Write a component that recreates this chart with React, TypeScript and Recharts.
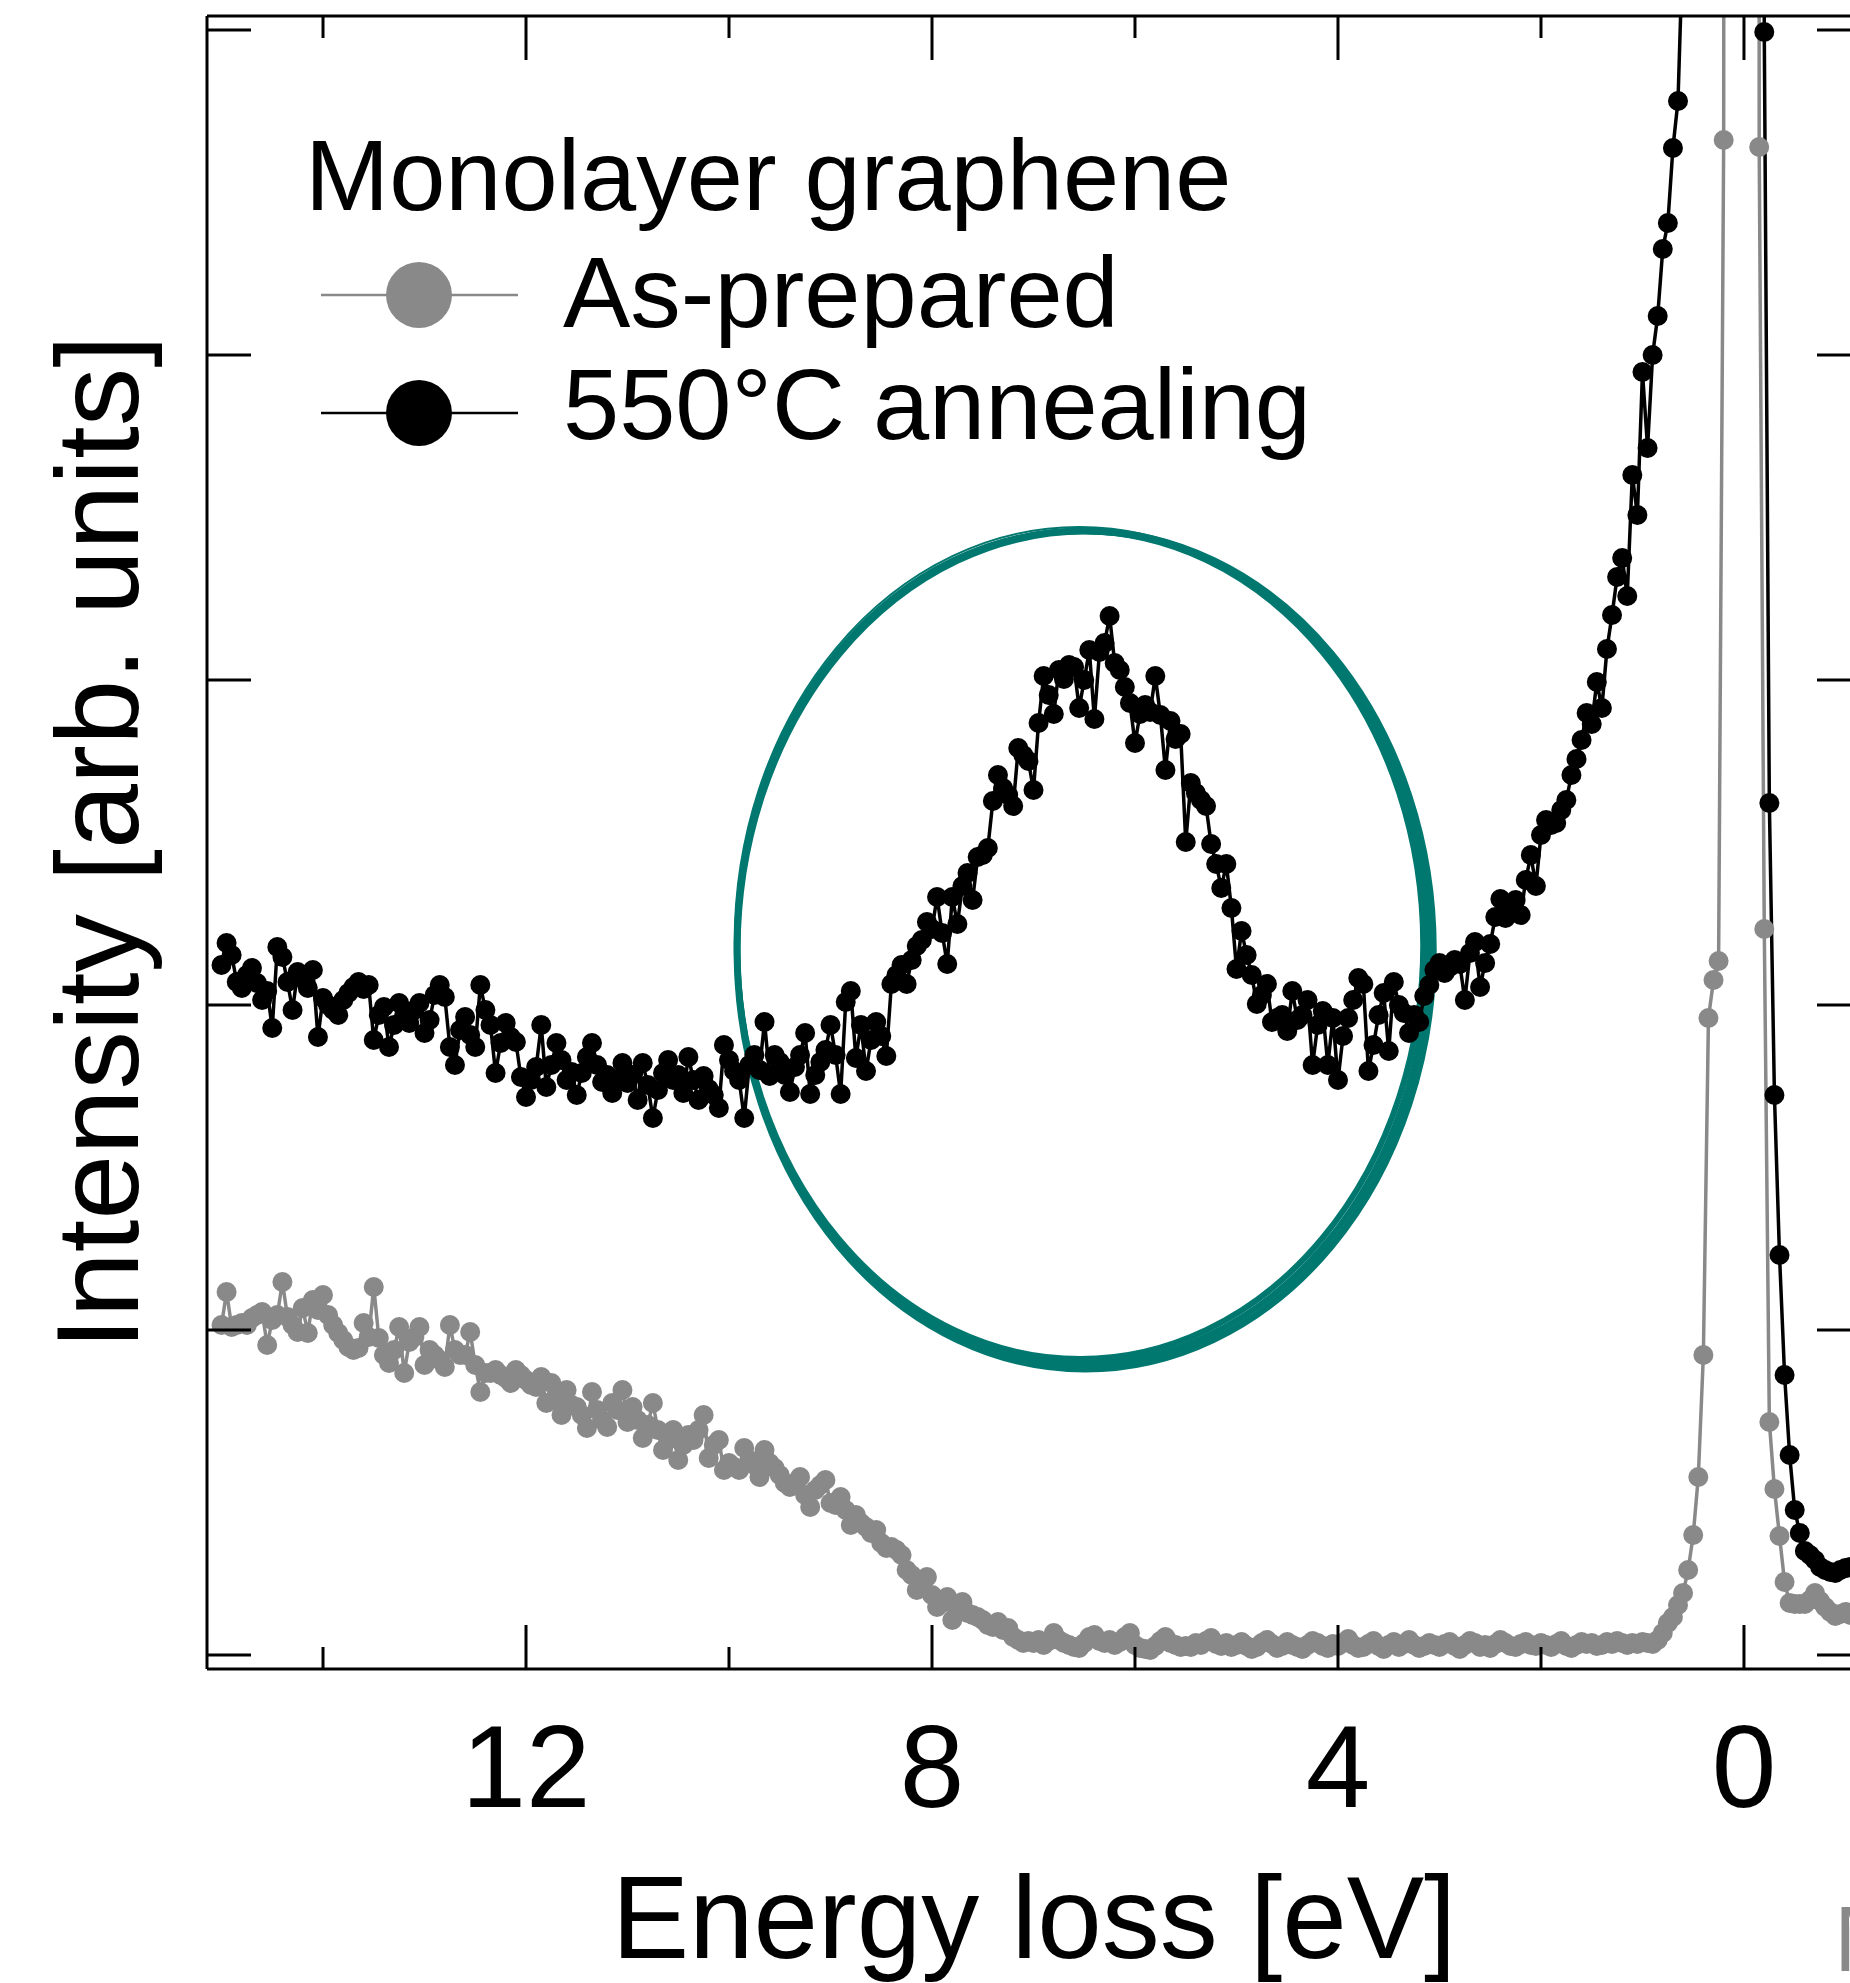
import React from 'react';
import { LineChart, Line, XAxis, YAxis, ReferenceArea, Legend } from 'recharts';

// Energy loss grid [eV]
const energy = [
  15.0, 14.95, 14.9, 14.85, 14.8, 14.75, 14.7, 14.65, 14.6, 14.55, 14.5, 14.45, 14.4, 14.35, 14.3, 14.25, 14.2, 14.15, 14.1, 14.05,
  14.0, 13.95, 13.9, 13.85, 13.8, 13.75, 13.7, 13.65, 13.6, 13.55, 13.5, 13.45, 13.4, 13.35, 13.3, 13.25, 13.2, 13.15, 13.1, 13.05,
  13.0, 12.95, 12.9, 12.85, 12.8, 12.75, 12.7, 12.65, 12.6, 12.55, 12.5, 12.45, 12.4, 12.35, 12.3, 12.25, 12.2, 12.15, 12.1, 12.05,
  12.0, 11.95, 11.9, 11.85, 11.8, 11.75, 11.7, 11.65, 11.6, 11.55, 11.5, 11.45, 11.4, 11.35, 11.3, 11.25, 11.2, 11.15, 11.1, 11.05,
  11.0, 10.95, 10.9, 10.85, 10.8, 10.75, 10.7, 10.65, 10.6, 10.55, 10.5, 10.45, 10.4, 10.35, 10.3, 10.25, 10.2, 10.15, 10.1, 10.05,
  10.0, 9.95, 9.9, 9.85, 9.8, 9.75, 9.7, 9.65, 9.6, 9.55, 9.5, 9.45, 9.4, 9.35, 9.3, 9.25, 9.2, 9.15, 9.1, 9.05,
  9.0, 8.95, 8.9, 8.85, 8.8, 8.75, 8.7, 8.65, 8.6, 8.55, 8.5, 8.45, 8.4, 8.35, 8.3, 8.25, 8.2, 8.15, 8.1, 8.05,
  8.0, 7.95, 7.9, 7.85, 7.8, 7.75, 7.7, 7.65, 7.6, 7.55, 7.5, 7.45, 7.4, 7.35, 7.3, 7.25, 7.2, 7.15, 7.1, 7.05,
  7.0, 6.95, 6.9, 6.85, 6.8, 6.75, 6.7, 6.65, 6.6, 6.55, 6.5, 6.45, 6.4, 6.35, 6.3, 6.25, 6.2, 6.15, 6.1, 6.05,
  6.0, 5.95, 5.9, 5.85, 5.8, 5.75, 5.7, 5.65, 5.6, 5.55, 5.5, 5.45, 5.4, 5.35, 5.3, 5.25, 5.2, 5.15, 5.1, 5.05,
  5.0, 4.95, 4.9, 4.85, 4.8, 4.75, 4.7, 4.65, 4.6, 4.55, 4.5, 4.45, 4.4, 4.35, 4.3, 4.25, 4.2, 4.15, 4.1, 4.05,
  4.0, 3.95, 3.9, 3.85, 3.8, 3.75, 3.7, 3.65, 3.6, 3.55, 3.5, 3.45, 3.4, 3.35, 3.3, 3.25, 3.2, 3.15, 3.1, 3.05,
  3.0, 2.95, 2.9, 2.85, 2.8, 2.75, 2.7, 2.65, 2.6, 2.55, 2.5, 2.45, 2.4, 2.35, 2.3, 2.25, 2.2, 2.15, 2.1, 2.05,
  2.0, 1.95, 1.9, 1.85, 1.8, 1.75, 1.7, 1.65, 1.6, 1.55, 1.5, 1.45, 1.4, 1.35, 1.3, 1.25, 1.2, 1.15, 1.1, 1.05,
  1.0, 0.95, 0.9, 0.85, 0.8, 0.75, 0.7, 0.65, 0.6, 0.55, 0.5, 0.45, 0.4, 0.35, 0.3, 0.25, 0.2, 0.15, 0.1, 0.05,
  0.0, -0.05, -0.1, -0.15, -0.2, -0.25, -0.3, -0.35, -0.4, -0.45, -0.5, -0.55, -0.6, -0.65, -0.7, -0.75, -0.8, -0.85, -0.9, -0.95,
  -1.0, -1.05, -1.1, -1.15,
];

// As-prepared intensity [arb. units]
const asPrepared = [
  330, 363, 328, 330, 332, 330, 337, 340, 343, 310, 335, 340, 373, 338, 330, 323, 347, 322, 355, 345,
  360, 340, 330, 322, 315, 308, 305, 307, 332, 318, 368, 317, 300, 292, 305, 328, 282, 313, 318, 328,
  290, 305, 300, 295, 288, 330, 305, 300, 300, 323, 290, 263, 282, 282, 285, 280, 277, 272, 285, 280,
  275, 270, 268, 278, 252, 272, 255, 240, 265, 250, 248, 240, 227, 263, 245, 235, 228, 252, 245, 265,
  233, 248, 235, 217, 230, 252, 225, 205, 215, 225, 195, 210, 220, 215, 225, 240, 197, 210, 215, 185,
  192, 188, 185, 207, 195, 190, 178, 205, 192, 187, 180, 172, 168, 172, 178, 160, 148, 165, 170, 175,
  152, 150, 158, 145, 130, 140, 132, 128, 122, 125, 112, 107, 108, 105, 100, 85, 80, 65, 72, 78,
  60, 48, 52, 58, 35, 45, 53, 42, 40, 38, 35, 30, 28, 33, 25, 27, 18, 15, 12, 14,
  12, 15, 10, 14, 22, 15, 12, 10, 8, 7, 12, 18, 20, 14, 12, 15, 10, 13, 18, 22,
  10, 7, 6, 5, 9, 14, 18, 12, 10, 8, 9, 8, 12, 10, 14, 17, 11, 9, 12, 8,
  10, 13, 9, 6, 8, 12, 15, 11, 7, 9, 13, 10, 8, 6, 10, 14, 12, 9, 7, 11,
  9, 12, 16, 10, 7, 8, 11, 14, 9, 6, 10, 13, 8, 11, 15, 10, 7, 9, 12, 10,
  8, 11, 13, 9, 6, 10, 14, 12, 8, 10, 7, 11, 15, 12, 9, 8, 11, 13, 10, 9,
  12, 10, 8, 11, 14, 9, 7, 10, 13, 11, 12, 9, 10, 13, 11, 14, 12, 10, 12, 11,
  13, 12, 11, 15, 22, 32, 38, 50, 62, 85, 120, 178, 300, 637, 675, 694, 1515, 9000, 30000, 50000,
  60000, 45000, 20000, 1508, 726, 233, 166, 119, 73, 52, 51, 51, 51, 55, 62, 54, 48, 43, 39, 41,
  43, 40, 42, 40,
];

// 550 °C annealed intensity [arb. units]
const annealed = [
  690, 712, 700, 673, 667, 680, 687, 672, 655, 664, 627, 708, 698, 673, 645, 683, 676, 667, 685, 618,
  657, 650, 645, 640, 655, 662, 668, 673, 666, 670, 615, 640, 648, 608, 630, 652, 640, 632, 645, 652,
  622, 635, 660, 670, 658, 608, 590, 625, 638, 620, 608, 670, 645, 630, 582, 612, 632, 618, 613, 578,
  558, 575, 588, 630, 568, 590, 612, 595, 575, 583, 560, 582, 598, 612, 590, 573, 580, 562, 575, 592,
  572, 580, 555, 592, 570, 537, 565, 582, 595, 575, 580, 562, 598, 575, 555, 579, 566, 560, 547, 610,
  595, 584, 575, 537, 590, 600, 585, 633, 579, 600, 593, 580, 563, 588, 600, 622, 561, 580, 593, 605,
  630, 600, 561, 653, 664, 597, 630, 584, 615, 633, 619, 599, 671, 680, 690, 671, 695, 709, 715, 733,
  726, 758, 722, 691, 758, 731, 769, 782, 755, 798, 800, 807, 854, 880, 867, 860, 849, 907, 900, 894,
  865, 932, 979, 960, 941, 985, 976, 990, 988, 947, 975, 1005, 936, 1003, 1012, 1039, 992, 985, 968, 952,
  912, 941, 950, 943, 979, 940, 885, 934, 916, 921, 813, 872, 862, 855, 849, 811, 791, 767, 791, 747,
  686, 724, 700, 680, 651, 660, 671, 633, 637, 640, 624, 664, 635, 640, 655, 590, 630, 644, 590, 637,
  575, 619, 637, 655, 677, 671, 584, 610, 640, 662, 604, 673, 650, 642, 622, 640, 633, 659, 670, 685,
  692, 682, 688, 695, 691, 655, 702, 713, 668, 692, 711, 738, 756, 737, 745, 755, 740, 775, 800, 769,
  820, 835, 830, 832, 845, 855, 880, 896, 915, 942, 931, 973, 947, 1006, 1040, 1078, 1097, 1059, 1180, 1140,
  1283, 1207, 1300, 1339, 1406, 1432, 1507, 1554, 1720, 2200, 2800, 3600, 4600, 6000, 8000, 11000, 15000, 20000, 26000, 32000,
  36000, 30000, 18000, 6000, 1623, 852, 560, 400, 280, 200, 145, 122, 104, 100, 95, 88, 85, 83, 82, 85,
  87, 88, 86, 85,
];

const seriesNames = ['As-prepared', '550°C annealing'];
const legendTitle = 'Monolayer graphene';
const xTicks = [14, 12, 10, 8, 6, 4, 2, 0];
const xLabelTicks = [12, 8, 4, 0];
const yTicks = [0, 325, 650, 975, 1300, 1625];
const xDomain = [-1.153, 15.143];
const yDomain = [-14, 1639];
// highlighted region (eV from..to, intensity low..high)
const highlightFrom = 9.92;
const highlightTo = 3.16;
const highlightLow = 296;
const highlightHigh = 1124;

const FONT = '"Liberation Sans", Arial, Helvetica, sans-serif';
const GRAY = '#898989';
const BLACK = '#000000';
const TEAL = '#00786f';

const data = energy.map((e, i) => ({ e, asPrepared: asPrepared[i], annealed: annealed[i] }));

const isMajor = (v: number) => Math.abs(v % 4) < 1e-6;

const BottomTick = (props: any) => {
  const { x, y, payload } = props;
  const v = payload.value;
  const major = isMajor(v);
  return (
    <g>
      <line x1={x} x2={x} y1={y} y2={y - (major ? 44 : 22)} stroke="#000" strokeWidth={3} />
      {xLabelTicks.includes(v) && (
        <text x={x} y={y + 138} textAnchor="middle" fontSize={116} fontFamily={FONT} fill="#000">
          {v}
        </text>
      )}
    </g>
  );
};

const TopTick = (props: any) => {
  const { x, y, payload } = props;
  const major = isMajor(payload.value);
  return <line x1={x} x2={x} y1={y} y2={y + (major ? 44 : 22)} stroke="#000" strokeWidth={3} />;
};

const LeftTick = (props: any) => {
  const { x, y } = props;
  return <line x1={x} x2={x + 44} y1={y} y2={y} stroke="#000" strokeWidth={3} />;
};

const RightTick = (props: any) => {
  const { x, y } = props;
  return <line x1={x} x2={x - 44} y1={y} y2={y} stroke="#000" strokeWidth={3} />;
};

const xLabel = (props: any) => {
  const vb = props.viewBox || {};
  return (
    <text x={vb.x + vb.width / 2} y={vb.y + 289} textAnchor="middle" fontSize={116} fontFamily={FONT} fill="#000">
      Energy loss [eV]
    </text>
  );
};

const yLabel = (props: any) => {
  const vb = props.viewBox || {};
  const x = vb.x + (vb.width || 0) - 69;
  const y = vb.y + vb.height / 2;
  return (
    <text
      x={x}
      y={y}
      transform={`rotate(-90, ${x}, ${y})`}
      textAnchor="middle"
      fontSize={117}
      fontFamily={FONT}
      fill="#000"
    >
      Intensity [arb. units]
    </text>
  );
};

const renderRing = (p: any) => {
  const w = Math.abs(p.width);
  const h = Math.abs(p.height);
  const left = Math.min(p.x, p.x + p.width);
  const top = Math.min(p.y, p.y + p.height);
  const cx = left + w / 2;
  const cy = top + h / 2;
  const rx = w / 2;
  const ry = h / 2;
  return (
    <g fill="none" stroke={TEAL}>
      <ellipse cx={cx} cy={cy} rx={rx} ry={ry} strokeWidth={6} />
      <ellipse cx={cx + 2.5} cy={cy + 2.5} rx={rx + 2.5} ry={ry + 2.5} strokeWidth={6} />
      <ellipse cx={cx + 5} cy={cy + 5} rx={rx + 5} ry={ry + 5} strokeWidth={7} />
      <ellipse cx={cx - 1} cy={cy - 2} rx={rx + 1.5} ry={ry + 2} strokeWidth={2} />
    </g>
  );
};

const legendRows = [
  { iconY: 295, textY: 327 },
  { iconY: 413, textY: 439 },
];

const renderLegend = (props: any) => {
  const payload = props.payload || [];
  const items = seriesNames
    .map((name) => payload.find((it: any) => it.value === name))
    .filter(Boolean);
  return (
    <svg width={1100} height={480} style={{ overflow: 'visible', display: 'block' }}>
      <text x={305} y={210} fontSize={101} fontFamily={FONT} fill="#000">
        {legendTitle}
      </text>
      {items.map((it: any, i: number) => {
        const r = legendRows[i];
        if (!r) return null;
        return (
          <g key={i}>
            <line x1={321} x2={518} y1={r.iconY} y2={r.iconY} stroke={it.color} strokeWidth={2.5} />
            <circle cx={419} cy={r.iconY} r={33} fill={it.color} />
            <text x={563} y={r.textY} fontSize={101} fontFamily={FONT} fill="#000">
              {it.value}
            </text>
          </g>
        );
      })}
    </svg>
  );
};

export default function App() {
  return (
    <div
      style={{
        position: 'absolute',
        left: 0,
        top: 0,
        width: 1850,
        height: 1983,
        overflow: 'hidden',
        background: '#fff',
      }}
    >
      <LineChart width={1900} height={1983} data={data} margin={{ top: 15, right: 38, bottom: 313, left: 206 }}>
        <XAxis
          xAxisId="bottom"
          dataKey="e"
          type="number"
          orientation="bottom"
          domain={xDomain}
          reversed
          allowDataOverflow
          height={1}
          ticks={xTicks}
          interval={0}
          tickSize={0}
          tickMargin={0}
          tickLine={false}
          axisLine={{ stroke: '#000', strokeWidth: 3 }}
          tick={<BottomTick />}
          label={xLabel}
        />
        <XAxis
          xAxisId="top"
          dataKey="e"
          type="number"
          orientation="top"
          domain={xDomain}
          reversed
          allowDataOverflow
          height={1}
          ticks={xTicks}
          interval={0}
          tickSize={0}
          tickMargin={0}
          tickLine={false}
          axisLine={{ stroke: '#000', strokeWidth: 3 }}
          tick={<TopTick />}
        />
        <YAxis
          yAxisId="left"
          type="number"
          orientation="left"
          domain={yDomain}
          allowDataOverflow
          width={1}
          ticks={yTicks}
          interval={0}
          tickSize={0}
          tickMargin={0}
          tickLine={false}
          axisLine={{ stroke: '#000', strokeWidth: 3 }}
          tick={<LeftTick />}
          label={yLabel}
        />
        <YAxis
          yAxisId="right"
          type="number"
          orientation="right"
          domain={yDomain}
          allowDataOverflow
          width={1}
          ticks={yTicks}
          interval={0}
          tickSize={0}
          tickMargin={0}
          tickLine={false}
          axisLine={{ stroke: '#000', strokeWidth: 3 }}
          tick={<RightTick />}
        />
        <ReferenceArea
          xAxisId="bottom"
          yAxisId="left"
          x1={highlightFrom}
          x2={highlightTo}
          y1={highlightLow}
          y2={highlightHigh}
          shape={renderRing}
        />
        <Line
          xAxisId="bottom"
          yAxisId="left"
          dataKey="asPrepared"
          name={seriesNames[0]}
          stroke={GRAY}
          strokeWidth={3.5}
          dot={{ r: 10, fill: GRAY, stroke: 'none', strokeWidth: 0 }}
          activeDot={false}
          isAnimationActive={false}
        />
        <Line
          xAxisId="bottom"
          yAxisId="left"
          dataKey="annealed"
          name={seriesNames[1]}
          stroke={BLACK}
          strokeWidth={3.5}
          dot={{ r: 10, fill: BLACK, stroke: 'none', strokeWidth: 0 }}
          activeDot={false}
          isAnimationActive={false}
        />
        <Legend
          layout="vertical"
          align="center"
          verticalAlign="middle"
          wrapperStyle={{ left: 0, top: 0, width: 1100, height: 480 }}
          content={renderLegend}
        />
      </LineChart>
      <svg
        width={1850}
        height={1983}
        style={{ position: 'absolute', left: 0, top: 0, pointerEvents: 'none' }}
      >
        <text x={1834} y={1971} fontSize={92} fontFamily={FONT} fill={GRAY}>
          M
        </text>
      </svg>
    </div>
  );
}
